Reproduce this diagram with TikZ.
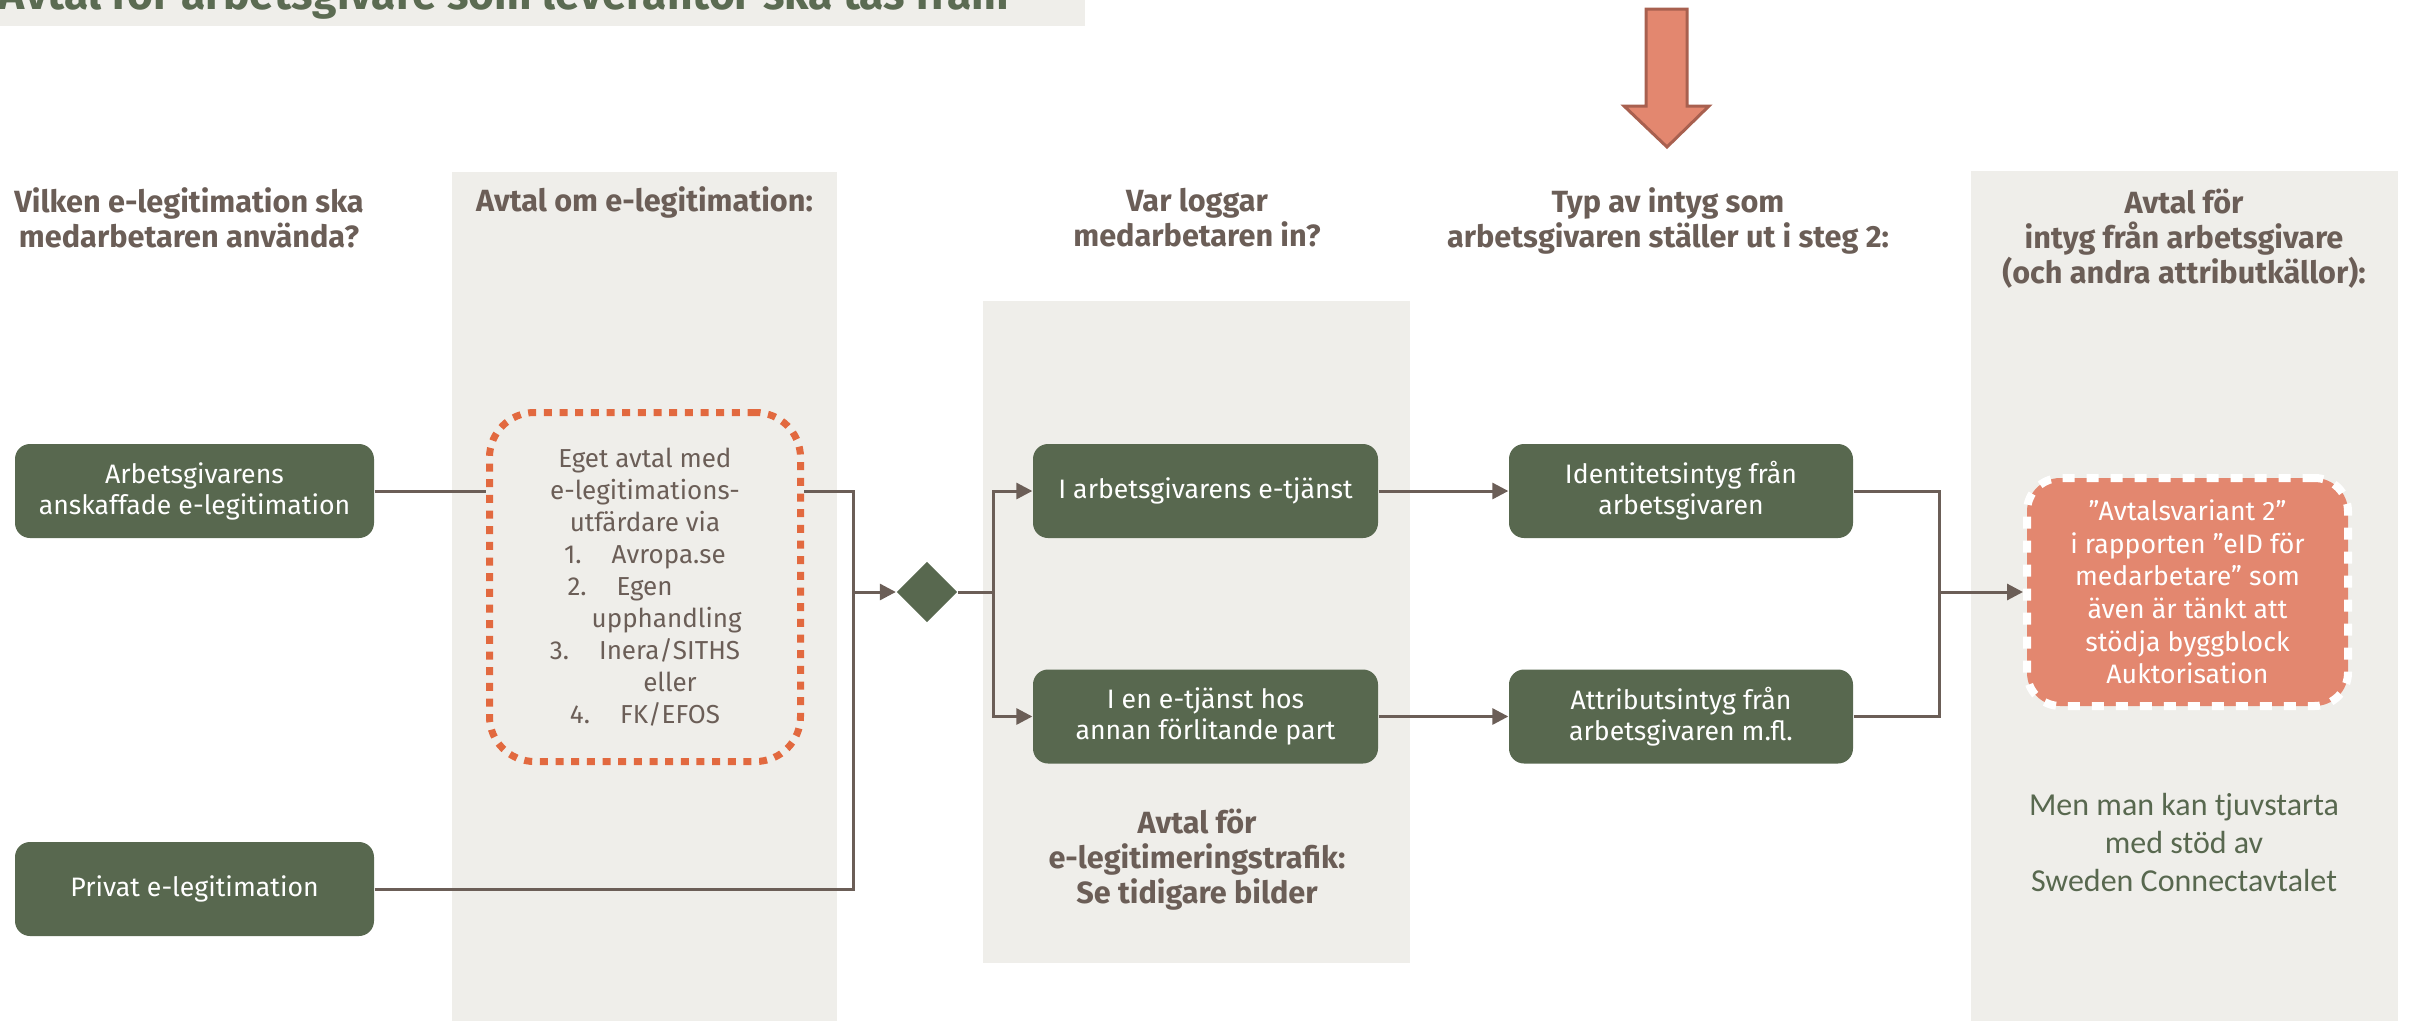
\documentclass[tikz,border=0pt]{standalone}
\usepackage{fontspec}
\setmainfont{Fira Sans}
\newfontfamily\carlito{Carlito}
\usetikzlibrary{shapes.geometric,arrows.meta}
\definecolor{boxgreen}{HTML}{58684F}
\definecolor{txtbrown}{HTML}{6B5E57}
\definecolor{bggray}{HTML}{EFEEEA}
\definecolor{dotorange}{HTML}{E2693F}
\definecolor{salmon}{HTML}{E3876F}
\definecolor{arrowedge}{HTML}{A8604F}
\definecolor{titlegreen}{HTML}{5B6B52}
\tikzset{
  gbox/.style={fill=boxgreen, draw=none, rounded corners=4.5pt, text=white, align=center,
    font=\fontsize{8}{9.3}\selectfont, minimum height=28.2pt, inner sep=0pt},
  dbox/.style={draw=dotorange, line width=2.1pt, dash pattern=on 2.4pt off 2.3pt,
    rounded corners=13.5pt, text=txtbrown, align=center, font=\fontsize{7.8}{9.6}\selectfont,
    minimum width=93.3pt, minimum height=104.7pt, inner sep=0pt},
  sbox/.style={fill=salmon, draw=white, line width=2.4pt, dash pattern=on 3.6pt off 3.6pt,
    rounded corners=10pt, text=white, align=center, font=\fontsize{8}{9.8}\selectfont,
    minimum width=96.3pt, minimum height=68.4pt, inner sep=0pt},
  dia/.style={diamond, aspect=1, fill=boxgreen, draw=none, minimum width=18.3pt, minimum height=18.3pt, inner sep=0pt},
  header/.style={text=txtbrown, font=\bfseries\fontsize{9.2}{10.5}\selectfont, align=center, inner sep=0pt},
  greentext/.style={text=boxgreen, font=\carlito\fontsize{9.6}{11.4}\selectfont, align=center, inner sep=0pt},
  conn/.style={draw=txtbrown, line width=0.9pt},
  arr/.style={-{Triangle[length=4.8pt,width=4.8pt]}},
}
\begin{document}
\begin{tikzpicture}[x=0.3pt,y=-0.3pt]
\useasboundingbox (0,0) rectangle (2410,1021);
\clip (0,0) rectangle (2410,1021);
% backgrounds
\fill[bggray] (0,0) rectangle (1085,26);
\fill[bggray] (452,172) rectangle (837,1021);
\fill[bggray] (983,301) rectangle (1410,963);
\fill[bggray] (1971,171) rectangle (2398,1021);
% title
\node[anchor=base east, font=\bfseries\fontsize{13.3}{15}\selectfont, text=titlegreen, inner sep=0pt] (T) at (1010,9) {Avtal för arbetsgivare som leverantör ska tas fram};
% big arrow
\draw[fill=salmon, draw=arrowedge, line width=0.9pt] (1646,9) -- (1687,9) -- (1687,106) -- (1709,106) -- (1667,147) -- (1624,106) -- (1646,106) -- cycle;
% headers
\node[header] (H1) at (189,218) {Vilken e-legitimation ska\\medarbetaren använda?};
\node[header, anchor=base] (H2) at (644.5,211) {Avtal om e-legitimation:};
\node[header] (H3) at (1197,218) {Var loggar\\medarbetaren in?};
\node[header] (H4) at (1668,221) {Typ av intyg som\\arbetsgivaren ställer ut i steg 2:};
\node[header] (H5) at (2184,238.5) {Avtal för\\intyg från arbetsgivare\\(och andra attributkällor):};
\node[header] (F1) at (1197,860) {Avtal för\\e-legitimeringstrafik:\\Se tidigare bilder};
\node[greentext] (F2) at (2184,842) {Men man kan tjuvstarta\\med stöd av\\Sweden Connectavtalet};
% boxes
\node[gbox, minimum width=107.7pt] (B1) at (194.5,491) {Arbetsgivarens\\anskaffade e-legitimation};
\node[gbox, minimum width=107.7pt] (B2) at (194.5,889) {Privat e-legitimation};
\node[dbox] (D) at (645,587) {Eget avtal med\\e-legitimations-\\utfärdare via\\1.\hspace{9pt}Avropa.se\\2.\hspace{9pt}Egen\hspace*{15pt}\mbox{}\\\hspace*{13pt}upphandling\\3.\hspace{9pt}Inera/SITHS\\\hspace*{15pt}eller\\4.\hspace{9pt}FK/EFOS};
\node[dia] (dia) at (927,592) {};
\node[gbox, minimum width=103.5pt] (B3) at (1205.5,491) {I arbetsgivarens e-tjänst};
\node[gbox, minimum width=103.5pt] (B4) at (1205.5,716.5) {I en e-tjänst hos\\annan förlitande part};
\node[gbox, minimum width=103.2pt] (B5) at (1681,491) {Identitetsintyg från\\arbetsgivaren};
\node[gbox, minimum width=103.2pt] (B6) at (1681,716.5) {Attributsintyg från\\arbetsgivaren m.fl.};
\node[sbox] (S) at (2187.5,592) {”Avtalsvariant 2”\\i rapporten ”eID för\\medarbetare” som\\även är tänkt att\\stödja byggblock\\Auktorisation};
% junctions
\coordinate (j1) at (853,592);
\coordinate (j2) at (993,592);
\coordinate (j3) at (1939,592);
% connectors
\draw[conn] (B1.east) -- (B1.east -| D.west);
\draw[conn] (B1.east -| D.east) -| (j1);
\draw[conn] (B2.east) -| (j1);
\draw[conn,arr] (j1) -- (dia.west);
\draw[conn] (dia.east) -- (j2);
\draw[conn,arr] (j2) |- (B3.west);
\draw[conn,arr] (j2) |- (B4.west);
\draw[conn,arr] (B3.east) -- (B5.west);
\draw[conn,arr] (B4.east) -- (B6.west);
\draw[conn] (B5.east) -| (j3);
\draw[conn] (B6.east) -| (j3);
\draw[conn,arr] (j3) -- (S.west);
\end{tikzpicture}
\end{document}
